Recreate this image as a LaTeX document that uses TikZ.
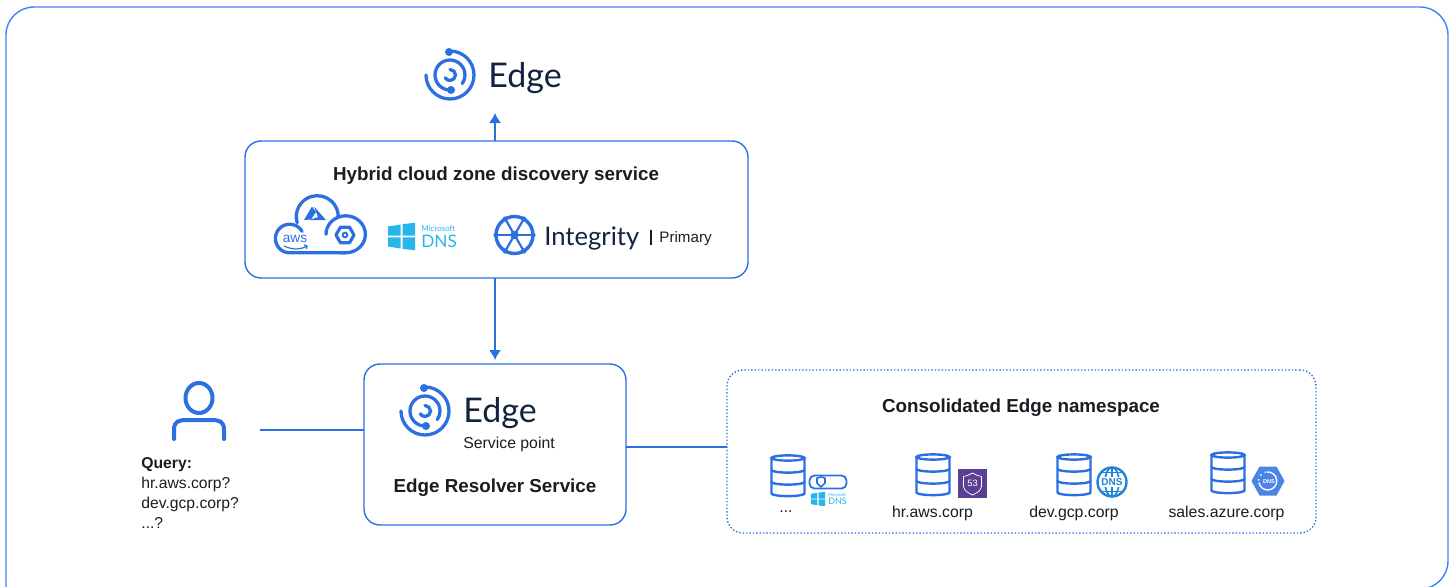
\documentclass[tikz,border=0pt]{standalone}
\usepackage{fontspec}
\setmainfont{Liberation Sans}
\newfontfamily\logofont{Lato}
\usetikzlibrary{arrows.meta,positioning}
\definecolor{edgeblue}{HTML}{2C6FE0}
\definecolor{frameblue}{HTML}{3F83F0}
\definecolor{edgenavy}{HTML}{12233F}
\definecolor{inktext}{HTML}{1A1C22}
\definecolor{msblue}{HTML}{27B5EC}
\definecolor{routepurple}{HTML}{5A3F92}
\definecolor{globeblue}{HTML}{1E82D8}
\definecolor{hexblue}{HTML}{4A84E6}
\tikzset{
	boxnode/.style={draw=edgeblue, line width=.7pt, rounded corners=8pt, inner sep=0pt, outer sep=0pt},
	link/.style={draw=edgeblue, line width=.75pt},
	linkarrow/.style={link, -{Latex[length=5pt,width=6pt]}},
	icon/.style={draw=edgeblue, line width=1.65pt, line cap=round},
	dbline/.style={draw=edgeblue, line width=1.2pt, line cap=round},
	heading/.style={font=\fontsize{9.4}{11}\selectfont\bfseries, text=inktext, inner sep=0pt},
	label/.style={font=\fontsize{7.9}{10}\selectfont, text=inktext, inner sep=0pt},
	logoword/.style={text=edgenavy, inner sep=0pt, anchor=base west},
	pics/edgelogo/.style={code={
		\draw[icon] (0,24) arc[start angle=90, end angle=-180, radius=24];
		\draw[icon] (0,-15) arc[start angle=-90, end angle=-395, radius=15];
		\draw[icon] (0,5.5) arc[start angle=90, end angle=-150, radius=5.5];
		\fill[edgeblue] (-1,23) circle[radius=4];
		\fill[edgeblue] (1,-15) circle[radius=4];
	}},
	pics/dbicon/.style={code={
		\draw[dbline] (0,18) ellipse[x radius=16.5, y radius=2.6];
		\draw[dbline] (-16.5,18) -- (-16.5,-17.5) arc[start angle=180, end angle=360, x radius=16.5, y radius=2.6] -- (16.5,18);
		\draw[dbline] (-16.5,6) arc[start angle=180, end angle=360, x radius=16.5, y radius=2.6];
		\draw[dbline] (-16.5,-6) arc[start angle=180, end angle=360, x radius=16.5, y radius=2.6];
	}},
	pics/msdns/.style={code={
		\fill[msblue] (-13.5,10) -- (-1,12) -- (-1,.8) -- (-13.5,.8) -- cycle;
		\fill[msblue] (1,12.3) -- (13.5,13.8) -- (13.5,.8) -- (1,.8) -- cycle;
		\fill[msblue] (-13.5,-.8) -- (-1,-.8) -- (-1,-12) -- (-13.5,-10) -- cycle;
		\fill[msblue] (1,-.8) -- (13.5,-.8) -- (13.5,-13.8) -- (1,-12.3) -- cycle;
		\node[transform shape, anchor=west, inner sep=0pt, text=msblue, font=\logofont\fontsize{4}{5}\selectfont] (mstop) at (19.5,7.5) {Microsoft};
		\node[transform shape, anchor=west, inner sep=0pt, text=msblue, font=\logofont\fontsize{8.6}{10}\selectfont] (msname) at (19.5,-5) {DNS};
	}},
	pics/cloudicon/.style={code={
		\draw[icon] (55.7,-16.8) -- (-.3,-16.8) arc[start angle=-90, end angle=-330, radius=14.3];
		\draw[icon] (7.2,13.2) arc[start angle=197, end angle=0, radius=21];
		\draw[icon] (36,1.7) arc[start angle=180, end angle=-90, x radius=19.7, y radius=18.5] -- (50,-16.8);
		% azure mark
		\fill[edgeblue] (22,29.5) -- (14,16) -- (21,16.5) -- (26,24) -- cycle;
		\fill[edgeblue] (24,29.5) -- (36,16) -- (19,16) -- (28,19) -- cycle;
		% gcp mark
		\draw[edgeblue, line width=1.6pt, line join=round] (46,1) -- ++(4.5,7.8) -- ++(9,0) -- ++(4.5,-7.8) -- ++(-4.5,-7.8) -- ++(-9,0) -- cycle;
		\fill[edgeblue] (55,1) circle[radius=3.4];
		\fill[white] (55,1) circle[radius=1.4];
		\node[inner sep=0pt, text=edgeblue, font=\fontsize{6.8}{8}\selectfont] (awsword) at (5,-3) {aws};
		\draw[edgeblue, line width=.6pt] (-6,-10) .. controls (3,-14) and (10,-14) .. (17,-10);
		\draw[edgeblue, line width=.6pt] (14,-9) -- (17,-10) -- (16.5,-13);
	}},
	pics/routeicon/.style={code={
		\fill[routepurple] (-14.5,-14.5) rectangle (14.5,14.5);
		\draw[white, line width=.35pt, line join=round] (-9,7) -- (-5,8) -- (0,10.5) -- (5,8) -- (9,7) -- (9,-3) .. controls (8,-8) and (3,-10) .. (0,-11.5) .. controls (-3,-10) and (-8,-8) .. (-9,-3) -- cycle;
		\node[inner sep=0pt, text=white, font=\fontsize{4.6}{5}\selectfont] (routeword) at (0,0) {53};
	}},
	pics/globeicon/.style={code={
		\draw[globeblue, line width=1.2pt] (0,0) circle[radius=14.5];
		\draw[globeblue, line width=.8pt] (0,0) ellipse[x radius=7, y radius=14.5];
		\draw[globeblue, line width=.8pt] (0,-14.5) -- (0,14.5);
		\draw[globeblue, line width=.8pt] (-11,9.5) -- (11,9.5);
		\draw[globeblue, line width=.8pt] (-11,-9.5) -- (11,-9.5);
		\node[fill=white, inner xsep=.6pt, inner ysep=.5pt, text=globeblue, font=\fontsize{5}{6}\selectfont\bfseries] (globeword) at (0,0) {DNS};
	}},
	pics/hexicon/.style={code={
		\fill[hexblue] (-16.5,0) -- (-8.5,14.5) -- (8.5,14.5) -- (16.5,0) -- (8.5,-14.5) -- (-8.5,-14.5) -- cycle;
		\draw[white, line width=.7pt] (-1,9) arc[start angle=95, end angle=-170, radius=9];
		\draw[white, line width=.7pt, dotted] (-2,9) arc[start angle=100, end angle=190, radius=9];
		\node[inner sep=0pt, text=white, font=\fontsize{2.8}{3}\selectfont\bfseries] (hexword) at (1,-.5) {DNS};
	}},
	pics/wheelicon/.style={code={
		\draw[edgeblue, line width=1.7pt] (0,0) circle[radius=18.5];
		\foreach \a in {0,60,...,300} {
			\draw[edgeblue, line width=1.1pt] (0,0) -- (\a:18.5);
			\fill[edgeblue] (\a:18.5) circle[radius=2.6];
		}
		\fill[edgeblue] (0,0) circle[radius=4.2];
	}},
	pics/personicon/.style={code={
		\draw[icon, line width=2pt] (0,14) ellipse[x radius=13.5, y radius=15];
		\draw[icon, line width=2pt] (-25,-27) -- (-25,-18) .. controls (-25,-9) and (-20,-8) .. (-12,-8) -- (12,-8) .. controls (20,-8) and (25,-9) .. (25,-18) -- (25,-27);
	}},
}
\begin{document}
\begin{tikzpicture}[x=.5pt, y=.5pt]
	\clip (0,0) rectangle (1453,586);
	\useasboundingbox (0,0) rectangle (1453,586);

	% outer frame runs off the bottom of the page
	\draw [draw=frameblue, line width=.7pt, rounded corners=14pt] (6,-40) -- (6,579) -- (1448,579) -- (1448,-3) -- (1300,-3);

	% boxes
	\node [boxnode, minimum width=251.5pt, minimum height=68.5pt] (discovery) at (496.5,376.5) {};
	\node [boxnode, minimum width=131pt, minimum height=80.5pt] (resolver) at (495,141.5) {};
	\node [boxnode, densely dotted, minimum width=294.5pt, minimum height=81.5pt] (namespace) at (1021.5,134.5) {};

	% top logo
	\pic (logotop) at (450,511) {edgelogo};
	\node [logoword, font=\logofont\fontsize{17}{20}\selectfont] (edgetop) at (488,499) {Edge};

	% discovery service
	\node [heading] (discoverytitle) at (496,410) {Hybrid cloud zone discovery service};
	\pic (cloud) at (290,350) {cloudicon};
	\pic (dnsmain) at (401.5,349.5) {msdns};
	\pic (wheel) at (514.5,351) {wheelicon};
	\node [logoword, font=\logofont\fontsize{12.8}{16}\selectfont] (integrity) at (544,341) {Integrity};
	\node [inner sep=0pt, fill=inktext, minimum width=1pt, minimum height=7.5pt] (primarybar) at (651,348.5) {};
	\node [label, anchor=west, font=\fontsize{7.6}{10}\selectfont] (primary) at (659,347) {Primary};

	% resolver
	\pic (logoservice) at (425,175) {edgelogo};
	\node [logoword, font=\logofont\fontsize{17}{20}\selectfont] (edgeservice) at (463,164) {Edge};
	\node [label, anchor=west] (servicepoint) at (463,142) {Service point};
	\node [heading] (resolvertitle) at (495,98) {Edge Resolver Service};

	% user
	\pic (person) at (199,174) {personicon};
	\node [label, align=left, anchor=north west, font=\fontsize{7.85}{10}\selectfont] (query) at (141,129) {\textbf{Query:}\\hr.aws.corp?\\dev.gcp.corp?\\...?};

	% namespace
	\node [heading] (namespacetitle) at (1021,178) {Consolidated Edge namespace};
	\pic (dbdots) at (788,110) {dbicon};
	\pic (dbaws) at (933,111) {dbicon};
	\pic (dbgcp) at (1074,111) {dbicon};
	\pic (dbazure) at (1228,113) {dbicon};
	\node [draw=edgeblue, line width=.9pt, rounded corners=2.5pt, inner sep=0pt, minimum width=18.5pt, minimum height=6.5pt] (pill) at (828,104) {};
	\draw [edgeblue, line width=.8pt, line join=round] (817,108) -- (821,109) -- (825,108) -- (825,103) -- (821,99) -- (817,103) -- cycle;
	\pic [scale=.52, transform shape] (dnssmall) at (818,87) {msdns};
	\pic (route) at (972.5,102.5) {routeicon};
	\pic (globe) at (1112,104) {globeicon};
	\pic (hexdns) at (1268,105) {hexicon};
	\node [label] (dotslabel) at (786,74) {...};
	\node [label] (awslabel) at (932.5,73) {hr.aws.corp};
	\node [label] (gcplabel) at (1074,73) {dev.gcp.corp};
	\node [label] (azurelabel) at (1226.5,73) {sales.azure.corp};

	% connectors
	\coordinate (toptip) at (495,473);
	\coordinate (userend) at (260,156);
	\coordinate (nslink) at (626,139);
	\draw [linkarrow] (toptip |- discovery.north) -- (toptip);
	\draw [linkarrow, shorten >=2pt] (resolver.north |- discovery.south) -- (resolver.north);
	\draw [link] (userend) -- (resolver.west |- userend);
	\draw [link] (resolver.east |- nslink) -- (namespace.west |- nslink);
\end{tikzpicture}
\end{document}
